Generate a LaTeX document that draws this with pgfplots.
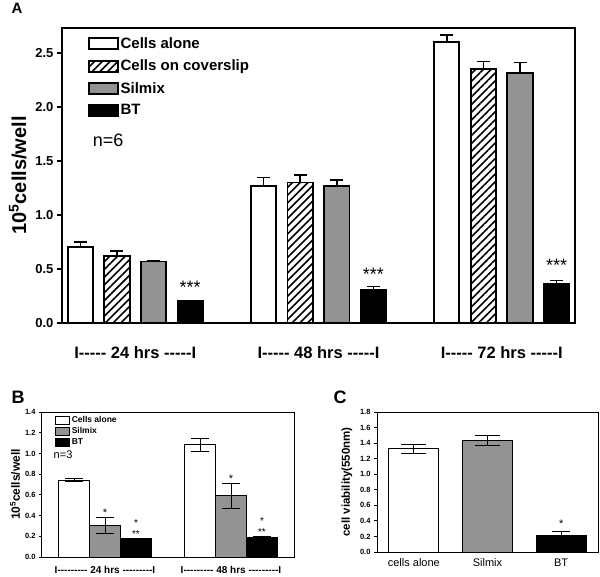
\documentclass[border=0pt]{standalone}
\usepackage{fontspec}
\setmainfont{Liberation Sans}
\usepackage{pgfplots}
\usepackage{pgfplotstable}
\pgfplotsset{compat=1.18}
\usetikzlibrary{patterns.meta}
\newcommand{\fs}[1]{\fontsize{#1}{#1}\selectfont}
\newcommand{\dd}{-{}-{}-{}-{}-}
\newcommand{\ddd}{-{}-{}-{}-{}-{}-{}-{}-{}-}

\pgfplotstableread{
x y e
0 0.70 0.05
5 1.27 0.075
10 2.60 0.065
}\Aalone
\pgfplotstableread{
x y e
1 0.62 0.045
6 1.30 0.07
11 2.35 0.07
}\Acover
\pgfplotstableread{
x y e
2 0.57 0.01
7 1.27 0.055
12 2.31 0.10
}\Asil
\pgfplotstableread{
x y e
3 0.20 0.005
8 0.31 0.03
13 0.36 0.035
}\Abt

\pgfplotstableread{
x y e
-0.246 0.74 0.015
0.754 1.085 0.062
}\Balone
\pgfplotstableread{
x y e
0 0.306 0.075
1 0.589 0.125
}\Bsil
\pgfplotstableread{
x y e
0.246 0.174 0.005
1.246 0.19 0.01
}\Bbt

\begin{document}
\begin{tikzpicture}
\useasboundingbox (0pt,0pt) rectangle (600pt,576pt);
\tikzset{hatchfill/.style={pattern={Lines[angle=45,distance=5.5pt,line width=1.6pt]}}}

% ---------------- Panel A ----------------
\node[font=\bfseries\fs{15}] at (17pt,568pt) {A};
\begin{axis}[at={(62pt,253pt)}, anchor=south west, scale only axis,
  width=513pt, height=295pt,
  xmin=-0.5, xmax=13.5, ymin=0, ymax=2.73,
  xtick=\empty, ytick={0,0.5,1,1.5,2,2.5},
  /pgf/number format/assume math mode=true,
  yticklabel style={/pgf/number format/fixed, /pgf/number format/fixed zerofill,
    /pgf/number format/precision=1, font=\bfseries\fs{13}},
  tick align=outside, ytick pos=left, major tick length=5pt,
  tick style={line width=1.5pt, black},
  axis line style={line width=1.8pt},
  ylabel={\bfseries 10\textsuperscript{5}cells/well}, ylabel style={font=\fs{20}, yshift=2pt},
  clip=false,
  legend image code/.code={\draw[#1] (0pt,-5.5pt) rectangle (29pt,5.5pt);},
  legend style={draw=none, fill=none, at={(rel axis cs:0.05,0.975)}, anchor=north west,
    font=\bfseries\fs{15}, row sep=6pt, inner sep=0pt},
  legend cell align=left,
  every axis plot/.append style={ybar, bar width=0.69, bar shift=0pt, line width=1.8pt, draw=black,
    error bars/y dir=plus, error bars/y explicit,
    error bars/error bar style={line width=1.5pt, black},
    error bars/error mark options={rotate=90, mark size=6.5pt, line width=1.5pt, black}},
]
\addplot[fill=white] table[x=x,y=y,y error=e] {\Aalone};
\addlegendentry{Cells alone}
\addplot[fill=white, postaction={hatchfill}] table[x=x,y=y,y error=e] {\Acover};
\addlegendentry{Cells on coverslip}
\addplot[fill=gray!85] table[x=x,y=y,y error=e] {\Asil};
\addlegendentry{Silmix}
\addplot[fill=black] table[x=x,y=y,y error=e] {\Abt};
\addlegendentry{BT}
\node[font=\fs{18}] at (axis cs:3,0.33) {***};
\node[font=\fs{18}] at (axis cs:8,0.45) {***};
\node[font=\fs{18}] at (axis cs:13,0.53) {***};
\node[font=\fs{18}] at (axis cs:0.76,1.69) {n=6};
\node[font=\bfseries\fs{16.5}] at (axis cs:1.5,-0.27) {I\dd{} 24 hrs \dd{}I};
\node[font=\bfseries\fs{16.5}] at (axis cs:6.5,-0.27) {I\dd{} 48 hrs \dd{}I};
\node[font=\bfseries\fs{16.5}] at (axis cs:11.5,-0.27) {I\dd{} 72 hrs \dd{}I};
\end{axis}

% ---------------- Panel B ----------------
\node[font=\bfseries\fs{18}] at (18pt,179pt) {B};
\begin{axis}[at={(42pt,19pt)}, anchor=south west, scale only axis,
  width=252pt, height=145pt,
  xmin=-0.5, xmax=1.5, ymin=0, ymax=1.4,
  xtick=\empty, ytick={0,0.2,...,1.4},
  /pgf/number format/assume math mode=true,
  yticklabel style={/pgf/number format/fixed, /pgf/number format/fixed zerofill,
    /pgf/number format/precision=1, font=\bfseries\fs{7.5}},
  tick align=outside, ytick pos=left, major tick length=3pt,
  tick style={line width=0.8pt, black},
  axis line style={line width=1pt},
  ylabel={\bfseries 10\textsuperscript{5}cells/well}, ylabel style={font=\fs{12}, yshift=-2pt},
  clip=false,
  legend image code/.code={\draw[#1] (0pt,-4pt) rectangle (14pt,4pt);},
  legend style={draw=none, fill=none, at={(rel axis cs:0.05,0.985)}, anchor=north west,
    font=\bfseries\fs{8.5}, row sep=-0.5pt, inner sep=0pt},
  legend cell align=left,
  every axis plot/.append style={ybar, bar width=0.246, bar shift=0pt, line width=1pt, draw=black,
    error bars/y dir=both, error bars/y explicit,
    error bars/error bar style={line width=0.9pt, black},
    error bars/error mark options={rotate=90, mark size=9pt, line width=0.9pt, black}},
]
\addplot[fill=white] table[x=x,y=y,y error=e] {\Balone};
\addlegendentry{Cells alone}
\addplot[fill=gray!85] table[x=x,y=y,y error=e] {\Bsil};
\addlegendentry{Silmix}
\addplot[fill=black] table[x=x,y=y,y error=e] {\Bbt};
\addlegendentry{BT}
\node[font=\fs{11}, inner sep=0pt] at (axis cs:0,0.43) {*};
\node[font=\fs{10}, inner sep=0pt] at (axis cs:0.246,0.325) {*};
\node[font=\fs{10}, inner sep=0pt] at (axis cs:0.246,0.22) {**};
\node[font=\fs{11}, inner sep=0pt] at (axis cs:1,0.76) {*};
\node[font=\fs{10}, inner sep=0pt] at (axis cs:1.246,0.35) {*};
\node[font=\fs{10}, inner sep=0pt] at (axis cs:1.246,0.245) {**};
\node[font=\fs{11}] at (axis cs:-0.333,0.985) {n=3};
\node[font=\bfseries\fs{10}] at (axis cs:0,-0.125) {I\ddd{} 24 hrs \ddd{}I};
\node[font=\bfseries\fs{10}] at (axis cs:1,-0.125) {I\ddd{} 48 hrs \ddd{}I};
\end{axis}

% ---------------- Panel C ----------------
\node[font=\bfseries\fs{18}] at (340pt,179pt) {C};
\begin{axis}[at={(377pt,24pt)}, anchor=south west, scale only axis,
  width=221pt, height=140pt,
  xmin=-0.5, xmax=2.5, ymin=0, ymax=1.8,
  xtick={0,1,2}, xticklabels={cells alone, Silmix, BT},
  xticklabel style={font=\fs{11}},
  x tick style={draw=none},
  ytick={0,0.2,...,1.8},
  /pgf/number format/assume math mode=true,
  yticklabel style={/pgf/number format/fixed, /pgf/number format/fixed zerofill,
    /pgf/number format/precision=1, font=\bfseries\fs{7.5}},
  tick align=outside, ytick pos=left, xtick pos=bottom, major tick length=3pt,
  tick style={line width=0.8pt, black},
  axis line style={line width=1pt},
  ylabel={\bfseries cell viability(550nm)}, ylabel style={font=\fs{11.5}, yshift=1pt},
  clip=false,
  every axis plot/.append style={ybar, bar width=0.68, bar shift=0pt, line width=1pt, draw=black,
    error bars/y explicit,
    error bars/error bar style={line width=0.9pt, black}},
]
\addplot[fill=white, error bars/y dir=both, error bars/error mark options={rotate=90, mark size=12.5pt, line width=0.9pt, black}] coordinates {(0,1.326) +- (0,0.054)};
\addplot[fill=gray!85, error bars/y dir=both, error bars/error mark options={rotate=90, mark size=12.5pt, line width=0.9pt, black}] coordinates {(1,1.434) +- (0,0.07)};
\addplot[fill=black, error bars/y dir=plus, error bars/error mark options={rotate=90, mark size=9pt, line width=0.9pt, black}] coordinates {(2,0.207) +- (0,0.055)};
\node[font=\fs{11}] at (axis cs:2,0.36) {*};
\end{axis}
\end{tikzpicture}
\end{document}
